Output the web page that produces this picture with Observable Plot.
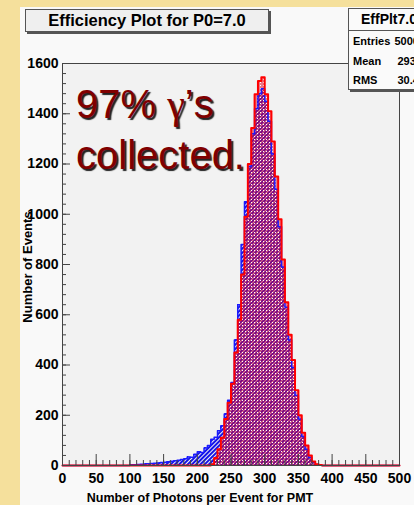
<!DOCTYPE html>
<html><head><meta charset="utf-8">
<script src="https://cdn.jsdelivr.net/npm/d3@7"></script>
<script src="https://cdn.jsdelivr.net/npm/@observablehq/plot@0.6"></script>
<style>
html,body{margin:0;padding:0;}
body{width:414px;height:505px;background:#f5e09c;position:relative;overflow:hidden;font-family:"Liberation Sans",Arial,Helvetica,sans-serif;}
#canvas{position:absolute;left:20px;top:7px;width:394px;height:498px;background:#f9f9f9;overflow:hidden;}
#chart{position:absolute;left:0;top:0;}
.title{position:absolute;left:5px;top:2px;width:242px;height:21px;background:#efefef;border:1px solid #555;box-shadow:2px 2px 0 #555;font-weight:bold;font-size:16.5px;line-height:21px;text-align:center;}
.stats{position:absolute;left:328px;top:1px;width:80px;height:80px;background:#fafafa;border:1px solid #555;box-shadow:2px 2px 0 #555;font-weight:bold;font-size:11px;}
.stats .hd{position:absolute;left:0;top:0;width:80px;height:21px;line-height:21px;text-align:center;font-size:14px;border-bottom:1px solid #555;}
.stats .row{position:absolute;left:0;width:80px;height:16px;line-height:16px;}
.stats .lab{position:absolute;left:4px;}
.stats .val{position:absolute;right:4px;}
.big{position:absolute;left:56px;top:72px;font-size:40px;line-height:51px;color:#800000;text-shadow:2px 2px 1px #222;white-space:nowrap;}
.big .g{font-family:"Liberation Serif","DejaVu Serif",serif;}
.xt{position:absolute;left:30px;top:484px;width:300px;text-align:center;font-weight:bold;font-size:12.5px;line-height:14px;}
.yt{position:absolute;left:-92px;top:252px;width:200px;height:16px;line-height:16px;text-align:center;font-weight:bold;font-size:13px;transform:rotate(-90deg);}
</style></head>
<body>
<div id="canvas">
  <div id="chart"></div>
  <div class="title">Efficiency Plot for P0=7.0</div>
  <div class="stats">
    <div class="hd">EffPlt7.0</div>
    <div class="row" style="top:24px"><span class="lab">Entries</span><span class="val">50000</span></div>
    <div class="row" style="top:44px"><span class="lab">Mean</span><span class="val">293.1</span></div>
    <div class="row" style="top:63px"><span class="lab">RMS</span><span class="val">30.47</span></div>
  </div>
  <div class="big">97% <span class="g">γ</span>’s<br>collected.</div>
  <div class="xt">Number of Photons per Event for PMT</div>
  <div class="yt">Number of Events</div>
</div>
<script>
const binLeft = [100,105,110,115,120,125,130,135,140,145,150,155,160,165,170,175,180,185,190,195,
  200,205,210,215,220,225,230,235,240,245,250,255,260,265,270,275,280,285,290,295,
  300,305,310,315,320,325,330,335,340,345,350,355,360,365,370,375,380];
const binWidth = 5;
const blueCounts = [3,3,4,5,6,7,8,9,10,12,13,15,17,19,21,24,27,34,33,45,
  55,52,70,80,104,112,138,158,205,260,330,500,640,880,1050,1190,1320,1420,1480,1500,
  1450,1370,1240,1100,950,790,630,500,390,280,185,115,65,32,12,4,1];
const redCounts = [0,0,0,0,0,0,0,0,0,0,0,0,0,0,0,0,0,0,0,0,
  0,0,0,0,5,30,65,110,185,250,325,450,580,760,990,1200,1343,1478,1530,1545,
  1478,1410,1290,1150,980,820,650,520,420,300,200,130,80,40,16,5,2];
const xTickLabels = [0,50,100,150,200,250,300,350,400,450,500];
const yTickLabels = [0,200,400,600,800,1000,1200,1400,1600];

const rows = binLeft.map((x, i) => ({x1: x, x2: x + binWidth, blue: blueCounts[i], red: redCounts[i]}));
function outline(key) {
  const pts = [{x: 0, y: 0}];
  rows.forEach(r => pts.push({x: r.x1, y: r[key]}));
  pts.push({x: rows[rows.length - 1].x2, y: 0});
  pts.push({x: 500, y: 0});
  return pts;
}
const xMinor = d3.range(0, 501, 10);
const yMinor = d3.range(0, 1601, 40);

const W = 394, H = 498, mL = 42, mR = 15, mT = 56, mB = 40;
const fW = W - mL - mR, fH = H - mT - mB;

const chart = Plot.plot({
  width: W, height: H,
  marginLeft: mL, marginRight: mR, marginTop: mT, marginBottom: mB,
  x: {domain: [0, 500]},
  y: {domain: [0, 1600]},
  style: {background: "transparent", fontFamily: "Liberation Sans, Arial, sans-serif", color: "#000"},
  marks: [
    Plot.frame({fill: "#f2f2f2", stroke: "none"}),
    Plot.rectY(rows, {x1: "x1", x2: "x2", y: "blue", fill: "url(#blueHatch)", shapeRendering: "crispEdges"}),
    Plot.rectY(rows, {x1: "x1", x2: "x2", y: "red", fill: "url(#redDots)", shapeRendering: "crispEdges"}),
    Plot.line(outline("blue"), {x: "x", y: "y", curve: "step-after", stroke: "#1a1aff", strokeWidth: 1.5}),
    Plot.line(outline("red"), {x: "x", y: "y", curve: "step-after", stroke: "#ff0000", strokeWidth: 2}),
    Plot.ruleX(xMinor, {stroke: "#444", insetTop: fH - 5}),
    Plot.ruleX(xTickLabels, {stroke: "#444", insetTop: fH - 11}),
    Plot.ruleY(yMinor, {stroke: "#444", insetRight: fW - 4}),
    Plot.ruleY(yTickLabels, {stroke: "#444", insetRight: fW - 8}),
    Plot.frame({stroke: "#444", strokeWidth: 1}),
    Plot.axisX({ticks: xTickLabels, tickFormat: d => String(d), tickSize: 0, tickPadding: 8, fontSize: 14, fontWeight: "bold", label: null}),
    Plot.axisY({ticks: yTickLabels, tickFormat: d => String(d), tickSize: 0, tickPadding: 4, fontSize: 14, fontWeight: "bold", label: null})
  ]
});
const ns = "http://www.w3.org/2000/svg";
const defs = document.createElementNS(ns, "defs");
defs.innerHTML = `
<pattern id="blueHatch" width="3" height="3" patternUnits="userSpaceOnUse" patternTransform="rotate(45)">
  <rect width="2" height="3" fill="#1414e8"/>
</pattern>
<pattern id="redDots" width="3" height="3" patternUnits="userSpaceOnUse">
  <rect x="0" y="0" width="3" height="3" fill="#e00020" fill-opacity="0.5"/>
  <rect x="0" y="0" width="1" height="1" fill="#ffffff"/>
</pattern>`;
chart.prepend(defs);
document.getElementById("chart").appendChild(chart);
</script>
</body></html>
